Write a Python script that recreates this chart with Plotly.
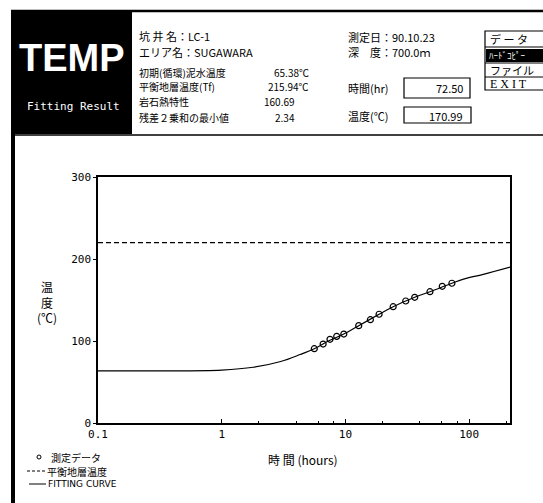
import plotly.graph_objects as go

# ---- data ----
time_meas = [5.6, 6.6, 7.5, 8.5, 9.7, 12.8, 15.9, 18.7, 24.3, 30.7, 36.3, 48.2, 60.6, 72.5]
temp_meas = [90.6, 96.3, 102.1, 105.7, 108.5, 118.7, 126.0, 132.6, 141.8, 148.8, 153.3, 160.1, 166.7, 170.4]
fit_time = [0.1, 0.3, 1.0, 1.8, 3.0, 4.3, 5.6, 7.5, 9.7, 12.8, 18.7, 24.3, 36.3, 48.2, 72.5, 90.0, 130.0, 214.0]
fit_temp = [63.5, 63.6, 64.6, 68.0, 75.0, 83.5, 90.6, 101.0, 108.5, 118.7, 132.6, 141.8, 153.3, 160.1, 170.4, 175.5, 181.3, 190.2]
eq_time = [0.1, 214.0]
eq_temp = [220.0, 220.0]
x_tickvals = [0.1, 1, 10, 100]
x_ticktext = ["0.1", "1", "10", "100"]
y_tickvals = [0, 100, 200, 300]

header_labels = ["初期(循環)泥水温度", "平衡地層温度(Tf)", "岩石熱特性", "残差２乗和の最小値"]
header_values = ["65.38℃", "215.94℃", "160.69", "2.34"]

W, H = 543, 503
PL, PR, PT, PB = 98, 510, 177, 423
JP = "Noto Sans CJK JP"


def px(x):
    return (x - PL) / (PR - PL)


def py(y):
    return (PB - y) / (PB - PT)


fig = go.Figure()
fig.add_trace(go.Scatter(x=eq_time, y=eq_temp, mode="lines",
                         line=dict(color="black", width=1.2, dash="5px,3px"),
                         showlegend=False, hoverinfo="skip"))
fig.add_trace(go.Scatter(x=fit_time, y=fit_temp, mode="lines", line_shape="spline",
                         line=dict(color="black", width=1.2), showlegend=False))
fig.add_trace(go.Scatter(x=time_meas, y=temp_meas, mode="markers",
                         marker=dict(symbol="circle-open", size=6, color="black",
                                     line=dict(width=1.2)),
                         showlegend=False))

shapes = []
annos = []


def rect(x0, y0, x1, y1, fill=None, lw=1.2, lc="black"):
    shapes.append(dict(type="rect", xref="paper", yref="paper",
                       x0=px(x0), x1=px(x1), y0=py(y0), y1=py(y1),
                       fillcolor=fill if fill else "rgba(0,0,0,0)",
                       line=dict(color=lc, width=lw), layer="above"))


def line(x0, y0, x1, y1, lw=1.2, dash="solid"):
    shapes.append(dict(type="line", xref="paper", yref="paper",
                       x0=px(x0), x1=px(x1), y0=py(y0), y1=py(y1),
                       line=dict(color="black", width=lw, dash=dash)))


def text(t, x, y, size=11, anchor="left", color="black", family=JP, vanchor="middle"):
    annos.append(dict(text=t, x=px(x), y=py(y), xref="paper", yref="paper",
                      xanchor=anchor, yanchor=vanchor, showarrow=False,
                      font=dict(size=size, color=color, family=family)))


# frame of the screen
rect(11, 11, 15, 503, fill="black", lw=0)
line(11, 11, 543, 11, lw=2.5)
line(11, 135, 543, 135, lw=1.5)
# logo box
rect(12, 11, 132, 134, fill="black", lw=0)
text("<b>TEMP</b>", 72, 58, size=38, anchor="center", color="white",
     family="Liberation Sans, Arial")
text("Fitting Result", 73, 107, size=11, anchor="center", color="white",
     family="DejaVu Sans Mono")

# header texts
text("坑 井 名：LC-1", 137, 36)
text("エリア名：SUGAWARA", 137, 52)
ys = [72, 87, 102, 117]
val_right = [311, 311, 297, 297]
for lab, val, yy, vr in zip(header_labels, header_values, ys, val_right):
    text(lab, 137, yy, size=10)
    text(val, vr, yy, anchor="right", size=10)

text("測定日：90.10.23", 346, 37)
text("深　度：700.0ｍ", 346, 52)
text("時間(hr)", 346, 88)
rect(404, 78, 470, 98)
text("72.50", 465, 88, anchor="right")
text("温度(℃)", 346, 116)
rect(404, 107, 471, 123)
text("170.99", 465, 116, anchor="right")

# menu
rect(485, 31, 560, 90)
line(485, 47, 543, 47)
line(485, 63, 543, 63)
line(485, 77, 543, 77)
rect(486, 49, 543, 62, fill="black", lw=0)
text("デ ー タ", 488, 39, size=11)
text("ﾊｰﾄﾞｺﾋﾟｰ", 487, 55, size=9, color="white")
text("ファイル", 488, 70, size=11)
text("E X I T", 488, 84, size=12, family="Liberation Serif")

# axis titles
text("温<br>度<br>(℃)", 47, 302, size=12, anchor="center")
text("時 間 (hours)", 303, 459, size=12, anchor="center")

# legend
shapes.append(dict(type="circle", xref="paper", yref="paper",
                   x0=px(37), x1=px(41), y0=py(455), y1=py(459),
                   line=dict(color="black", width=1)))
text("測定データ", 49, 457, size=10)
line(27, 471, 45, 471, lw=1, dash="3px,2px")
text("平衡地層温度", 45, 471, size=10)
line(29, 484, 46, 484, lw=1)
text("FITTING CURVE", 46, 484, size=9, family="DejaVu Sans")

fig.update_layout(
    width=W, height=H,
    margin=dict(l=PL, r=W - PR, t=PT, b=H - PB),
    paper_bgcolor="white", plot_bgcolor="white",
    shapes=shapes, annotations=annos,
    font=dict(family=JP, color="black", size=11),
    showlegend=False,
    xaxis=dict(type="log", range=[-1, 2.33], tickvals=x_tickvals, ticktext=x_ticktext,
               ticks="inside", ticklen=4, tickwidth=1, tickcolor="black",
               showline=True, linecolor="black", linewidth=1.5, mirror=True,
               showgrid=False, zeroline=False,
               tickfont=dict(size=11, family="DejaVu Sans Mono"),
               minor=dict(tickvals=[2, 4, 6, 8, 20, 40, 60, 80, 200], ticks="inside",
                          ticklen=2, tickcolor="black", showgrid=False)),
    yaxis=dict(range=[0, 300], tickvals=y_tickvals,
               ticks="outside", ticklen=3, tickwidth=1, tickcolor="black",
               showline=True, linecolor="black", linewidth=1.5, mirror=True,
               showgrid=False, zeroline=False,
               tickfont=dict(size=11, family="DejaVu Sans Mono")),
)

fig.write_html("out.html", config={"displayModeBar": False},
               post_script="document.body.style.margin='0';")
